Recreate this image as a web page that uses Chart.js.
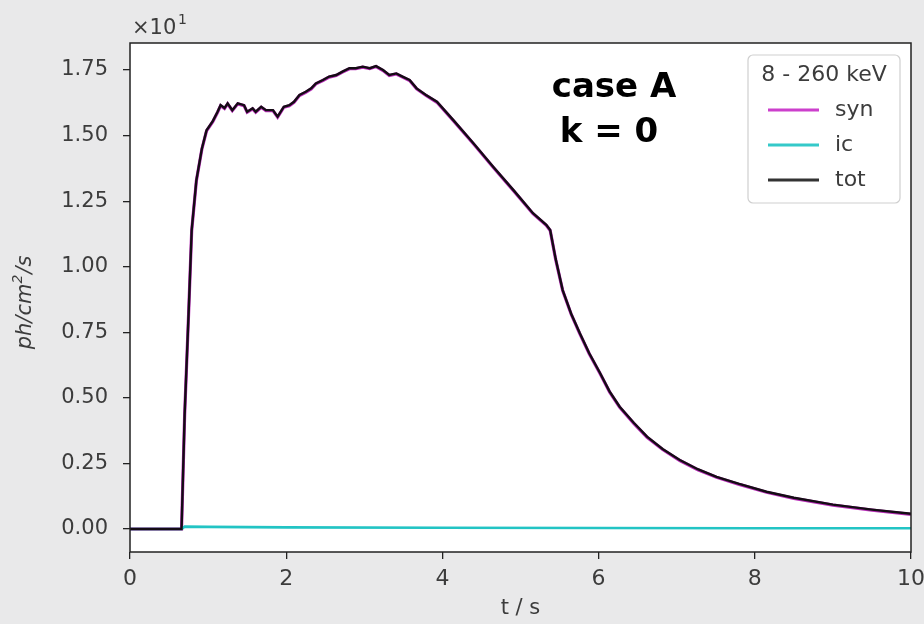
<!DOCTYPE html>
<html>
<head>
<meta charset="utf-8">
<script src="https://cdn.jsdelivr.net/npm/chart.js@4"></script>
<style>
  html, body { margin: 0; padding: 0; background: #e9e9ea; }
  #wrap { width: 924px; height: 624px; }
</style>
</head>
<body>
<div id="wrap"><canvas id="lightCurve" width="924" height="624"></canvas></div>
<script>
// values in units of 10^1 ph/cm^2/s
const time = [0, 0.66, 0.70, 0.75, 0.79, 0.85, 0.92, 0.98, 1.06, 1.12,
  1.16, 1.21, 1.25, 1.31, 1.38, 1.46, 1.50, 1.57, 1.61, 1.68,
  1.74, 1.83, 1.89, 1.97, 2.04, 2.10, 2.17, 2.25, 2.32, 2.38,
  2.47, 2.55, 2.64, 2.72, 2.81, 2.89, 2.98, 3.07, 3.15, 3.24,
  3.32, 3.41, 3.49, 3.58, 3.67, 3.79, 3.93, 4.14, 4.40, 4.65,
  4.91, 5.16, 5.33, 5.38, 5.45, 5.54, 5.65, 5.76, 5.88, 6.02,
  6.14, 6.27, 6.45, 6.62, 6.82, 7.04, 7.27, 7.51, 7.80, 8.15,
  8.50, 9.00, 9.50, 10.0];
const totFlux = [0, 0, 0.44, 0.82, 1.14, 1.33, 1.45, 1.52, 1.555, 1.59,
  1.616, 1.605, 1.623, 1.597, 1.623, 1.616, 1.591, 1.604, 1.591, 1.610,
  1.597, 1.597, 1.572, 1.610, 1.616, 1.629, 1.655, 1.667, 1.680, 1.699,
  1.712, 1.725, 1.731, 1.744, 1.757, 1.757, 1.763, 1.757, 1.765, 1.750,
  1.731, 1.737, 1.725, 1.712, 1.680, 1.655, 1.629, 1.559, 1.470, 1.381,
  1.292, 1.204, 1.160, 1.140, 1.030, 0.911, 0.820, 0.746, 0.670, 0.594,
  0.525, 0.466, 0.405, 0.352, 0.305, 0.263, 0.228, 0.199, 0.172, 0.142,
  0.119, 0.093, 0.074, 0.058];
const synFlux = [0, 0, 0.438, 0.818, 1.138, 1.328, 1.448, 1.518, 1.553, 1.588,
  1.614, 1.603, 1.621, 1.595, 1.621, 1.614, 1.589, 1.602, 1.589, 1.608,
  1.595, 1.595, 1.570, 1.608, 1.614, 1.627, 1.653, 1.665, 1.678, 1.697,
  1.710, 1.723, 1.729, 1.742, 1.755, 1.755, 1.761, 1.755, 1.763, 1.748,
  1.729, 1.735, 1.723, 1.710, 1.678, 1.653, 1.627, 1.557, 1.468, 1.379,
  1.290, 1.202, 1.158, 1.138, 1.028, 0.909, 0.818, 0.744, 0.668, 0.592,
  0.523, 0.464, 0.403, 0.350, 0.303, 0.261, 0.226, 0.197, 0.170, 0.140,
  0.117, 0.091, 0.072, 0.056];
const icTime = [0, 0.66, 0.70, 1.0, 2.0, 4.0, 6.0, 8.0, 10.0];
const icFlux = [0, 0, 0.009, 0.008, 0.006, 0.005, 0.004, 0.003, 0.003];

const seriesNames = ['syn', 'ic', 'tot'];
const legendTitle = '8 - 260 keV';
const xTicks = [0, 2, 4, 6, 8, 10];
const yTicks = [0, 0.25, 0.5, 0.75, 1.0, 1.25, 1.5, 1.75];
const caseText = ['case A', 'k = 0'];

const pts = (xs, ys) => xs.map((x, i) => ({ x: x, y: ys[i] }));

const BG = '#e9e9ea';
const TXT = '#3c3c3c';
const FONT = '"DejaVu Sans", sans-serif';

const framePlugin = {
  id: 'frame',
  beforeDraw(chart) {
    const c = chart.ctx;
    c.save();
    c.fillStyle = BG;
    c.fillRect(0, 0, chart.width, chart.height);
    const a = chart.chartArea;
    c.fillStyle = '#fff';
    c.fillRect(a.left, a.top, a.right - a.left, a.bottom - a.top);
    c.restore();
  },
  afterDraw(chart) {
    const c = chart.ctx;
    const a = chart.chartArea;
    c.save();
    c.strokeStyle = '#222';
    c.lineWidth = 1.5;
    c.strokeRect(a.left, a.top, a.right - a.left, a.bottom - a.top);

    // offset text
    c.fillStyle = TXT;
    c.font = '21px ' + FONT;
    c.textBaseline = 'alphabetic';
    c.textAlign = 'left';
    c.fillText('\u00d710', 132, 34);
    c.font = '14px ' + FONT;
    c.fillText('1', 178, 24);

    // axis titles
    c.font = '21px ' + FONT;
    c.textAlign = 'center';
    c.fillText('t / s', (a.left + a.right) / 2, 614);

    c.save();
    c.translate(31, 303);
    c.rotate(-Math.PI / 2);
    const p1 = 'ph/cm', p3 = '/s';
    c.font = 'italic 21px ' + FONT;
    const w1 = c.measureText(p1).width;
    const w3 = c.measureText(p3).width;
    c.font = 'italic 14px ' + FONT;
    const w2 = c.measureText('2').width;
    const x0 = -(w1 + w2 + w3) / 2;
    c.textAlign = 'left';
    c.font = 'italic 21px ' + FONT;
    c.fillText(p1, x0, 0);
    c.font = 'italic 14px ' + FONT;
    c.fillText('2', x0 + w1, -9);
    c.font = 'italic 21px ' + FONT;
    c.fillText(p3, x0 + w1 + w2 + 1, 0);
    c.restore();

    // case label
    c.fillStyle = '#000';
    c.font = 'bold 34px ' + FONT;
    c.textAlign = 'center';
    c.fillText(caseText[0], 614, 97);
    c.fillText(caseText[1], 609, 142);

    // legend
    const lx = 748, ly = 55, lw = 152, lh = 148;
    c.beginPath();
    c.roundRect(lx, ly, lw, lh, 5);
    c.fillStyle = 'rgba(255,255,255,0.85)';
    c.fill();
    c.strokeStyle = '#cfcfcf';
    c.lineWidth = 1.2;
    c.stroke();
    c.fillStyle = TXT;
    c.font = '22px ' + FONT;
    c.textAlign = 'center';
    c.textBaseline = 'middle';
    c.fillText(legendTitle, lx + lw / 2, 75);
    const legendColors = ['#cc3fcc', '#35c9c9', '#333333'];
    seriesNames.forEach((name, i) => {
      const y = 110 + i * 35;
      c.strokeStyle = legendColors[i];
      c.lineWidth = 3;
      c.beginPath();
      c.moveTo(768, y);
      c.lineTo(819, y);
      c.stroke();
      c.fillStyle = TXT;
      c.textAlign = 'left';
      c.fillText(name, 835, y);
    });
    c.restore();
  }
};

const ctx = document.getElementById('lightCurve').getContext('2d');
new Chart(ctx, {
  type: 'line',
  data: {
    datasets: [
      { label: seriesNames[2], data: pts(time, totFlux), borderColor: '#140c14', borderWidth: 2.4, order: 0 },
      { label: seriesNames[1], data: pts(icTime, icFlux), borderColor: '#22c4c4', borderWidth: 2.6, order: 1 },
      { label: seriesNames[0], data: pts(time, synFlux), borderColor: '#b82db8', borderWidth: 3.2, order: 2 }
    ]
  },
  options: {
    responsive: false,
    animation: false,
    elements: { point: { radius: 0 }, line: { tension: 0, fill: false } },
    layout: { padding: { left: 0, right: 13, top: 43, bottom: 0 } },
    scales: {
      x: {
        type: 'linear',
        min: 0,
        max: 10,
        afterFit: s => { s.height = 72; s.paddingLeft = 0; s.paddingRight = 0; },
        afterBuildTicks: s => { s.ticks = xTicks.map(v => ({ value: v })); },
        border: { display: false },
        grid: { drawOnChartArea: false, drawTicks: true, tickLength: 7, color: '#222', lineWidth: 1.3 },
        ticks: { color: TXT, font: { family: 'DejaVu Sans', size: 22 }, padding: 7, maxRotation: 0,
          callback: v => String(v) }
      },
      y: {
        type: 'linear',
        min: -0.0877,
        max: 1.853,
        afterFit: s => { s.width = 130; s.paddingTop = 0; s.paddingBottom = 0; },
        afterBuildTicks: s => { s.ticks = yTicks.map(v => ({ value: v })); },
        border: { display: false },
        grid: { drawOnChartArea: false, drawTicks: true, tickLength: 7, color: '#222', lineWidth: 1.3 },
        ticks: { color: TXT, font: { family: 'DejaVu Sans', size: 21 }, padding: 15,
          callback: v => v.toFixed(2) }
      }
    },
    plugins: {
      legend: { display: false },
      tooltip: { enabled: false }
    }
  },
  plugins: [framePlugin]
});
</script>
</body>
</html>
